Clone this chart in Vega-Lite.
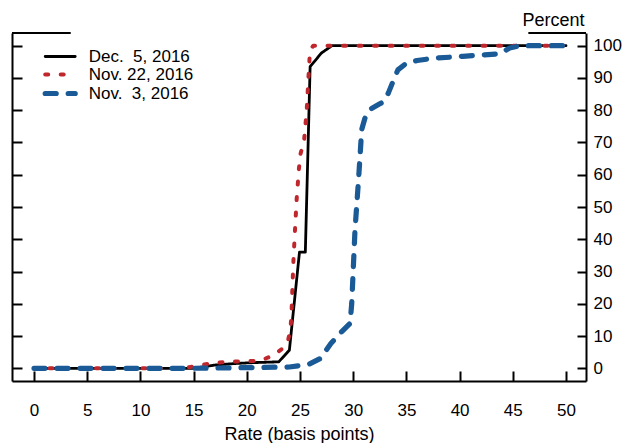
{
  "$schema": "https://vega.github.io/schema/vega-lite/v6.json",
  "width": 574,
  "height": 348,
  "autosize": {"type": "none"},
  "padding": {"left": 12, "top": 33, "right": 50, "bottom": 62},
  "config": {
    "view": {"stroke": null},
    "font": "Liberation Sans",
    "axis": {"grid": false, "domainColor": "black", "tickColor": "black", "labelColor": "black", "titleColor": "black", "domainWidth": 2, "tickWidth": 2, "titleFontWeight": "normal"}
  },
  "datasets": {
    "frame": [
      {"rate": -2.07, "rate2": 3.45, "pct": 103.94},
      {"rate": 46.46, "rate2": 51.88, "pct": 103.94}
    ],
    "curves": [
      {"series": "Dec.  5, 2016", "rate": 0, "pct": 0},
      {"series": "Dec.  5, 2016", "rate": 5, "pct": 0},
      {"series": "Dec.  5, 2016", "rate": 10, "pct": 0},
      {"series": "Dec.  5, 2016", "rate": 15, "pct": 0},
      {"series": "Dec.  5, 2016", "rate": 17, "pct": 1},
      {"series": "Dec.  5, 2016", "rate": 19, "pct": 1.5},
      {"series": "Dec.  5, 2016", "rate": 21, "pct": 1.8},
      {"series": "Dec.  5, 2016", "rate": 23, "pct": 2},
      {"series": "Dec.  5, 2016", "rate": 24, "pct": 5.6},
      {"series": "Dec.  5, 2016", "rate": 24.95, "pct": 36},
      {"series": "Dec.  5, 2016", "rate": 25.5, "pct": 36},
      {"series": "Dec.  5, 2016", "rate": 25.95, "pct": 93.5},
      {"series": "Dec.  5, 2016", "rate": 27, "pct": 97.7},
      {"series": "Dec.  5, 2016", "rate": 28, "pct": 100},
      {"series": "Dec.  5, 2016", "rate": 35, "pct": 100},
      {"series": "Dec.  5, 2016", "rate": 40, "pct": 100},
      {"series": "Dec.  5, 2016", "rate": 45, "pct": 100},
      {"series": "Dec.  5, 2016", "rate": 50, "pct": 100},
      {"series": "Nov. 22, 2016", "rate": 0, "pct": 0},
      {"series": "Nov. 22, 2016", "rate": 5, "pct": 0},
      {"series": "Nov. 22, 2016", "rate": 10, "pct": 0},
      {"series": "Nov. 22, 2016", "rate": 14, "pct": 0},
      {"series": "Nov. 22, 2016", "rate": 15, "pct": 0.6},
      {"series": "Nov. 22, 2016", "rate": 16, "pct": 1.2},
      {"series": "Nov. 22, 2016", "rate": 17, "pct": 1.7},
      {"series": "Nov. 22, 2016", "rate": 19, "pct": 2.1},
      {"series": "Nov. 22, 2016", "rate": 21.2, "pct": 2.3},
      {"series": "Nov. 22, 2016", "rate": 22.5, "pct": 4},
      {"series": "Nov. 22, 2016", "rate": 23.5, "pct": 6.5},
      {"series": "Nov. 22, 2016", "rate": 23.9, "pct": 9},
      {"series": "Nov. 22, 2016", "rate": 24.1, "pct": 12},
      {"series": "Nov. 22, 2016", "rate": 24.2, "pct": 17},
      {"series": "Nov. 22, 2016", "rate": 24.37, "pct": 32.5},
      {"series": "Nov. 22, 2016", "rate": 24.53, "pct": 43},
      {"series": "Nov. 22, 2016", "rate": 24.69, "pct": 52.7},
      {"series": "Nov. 22, 2016", "rate": 24.9, "pct": 62},
      {"series": "Nov. 22, 2016", "rate": 25.05, "pct": 66.5},
      {"series": "Nov. 22, 2016", "rate": 25.38, "pct": 70.5},
      {"series": "Nov. 22, 2016", "rate": 25.63, "pct": 80},
      {"series": "Nov. 22, 2016", "rate": 25.78, "pct": 89.4},
      {"series": "Nov. 22, 2016", "rate": 25.94, "pct": 98.6},
      {"series": "Nov. 22, 2016", "rate": 26.25, "pct": 100},
      {"series": "Nov. 22, 2016", "rate": 30, "pct": 100},
      {"series": "Nov. 22, 2016", "rate": 35, "pct": 100},
      {"series": "Nov. 22, 2016", "rate": 40, "pct": 100},
      {"series": "Nov. 22, 2016", "rate": 45, "pct": 100},
      {"series": "Nov. 22, 2016", "rate": 50, "pct": 100},
      {"series": "Nov.  3, 2016", "rate": 0, "pct": 0},
      {"series": "Nov.  3, 2016", "rate": 5, "pct": 0},
      {"series": "Nov.  3, 2016", "rate": 10, "pct": 0},
      {"series": "Nov.  3, 2016", "rate": 15, "pct": 0},
      {"series": "Nov.  3, 2016", "rate": 20, "pct": 0.2},
      {"series": "Nov.  3, 2016", "rate": 24, "pct": 0.4},
      {"series": "Nov.  3, 2016", "rate": 25.8, "pct": 1.2},
      {"series": "Nov.  3, 2016", "rate": 26.9, "pct": 3},
      {"series": "Nov.  3, 2016", "rate": 27.9, "pct": 7.7},
      {"series": "Nov.  3, 2016", "rate": 28.9, "pct": 11.3},
      {"series": "Nov.  3, 2016", "rate": 29.7, "pct": 13.9},
      {"series": "Nov.  3, 2016", "rate": 29.86, "pct": 20},
      {"series": "Nov.  3, 2016", "rate": 30.17, "pct": 43},
      {"series": "Nov.  3, 2016", "rate": 30.5, "pct": 58.4},
      {"series": "Nov.  3, 2016", "rate": 30.8, "pct": 74},
      {"series": "Nov.  3, 2016", "rate": 31.1, "pct": 77.5},
      {"series": "Nov.  3, 2016", "rate": 31.6, "pct": 80.3},
      {"series": "Nov.  3, 2016", "rate": 32.5, "pct": 82},
      {"series": "Nov.  3, 2016", "rate": 32.8, "pct": 82.5},
      {"series": "Nov.  3, 2016", "rate": 33.3, "pct": 85.3},
      {"series": "Nov.  3, 2016", "rate": 33.8, "pct": 89.4},
      {"series": "Nov.  3, 2016", "rate": 34.2, "pct": 92.5},
      {"series": "Nov.  3, 2016", "rate": 35, "pct": 94.6},
      {"series": "Nov.  3, 2016", "rate": 36, "pct": 95.4},
      {"series": "Nov.  3, 2016", "rate": 37.5, "pct": 96.1},
      {"series": "Nov.  3, 2016", "rate": 40.3, "pct": 96.7},
      {"series": "Nov.  3, 2016", "rate": 43.8, "pct": 97.5},
      {"series": "Nov.  3, 2016", "rate": 44.7, "pct": 99.3},
      {"series": "Nov.  3, 2016", "rate": 45.7, "pct": 100},
      {"series": "Nov.  3, 2016", "rate": 50, "pct": 100}
    ]
  },
  "encoding": {
    "x": {
      "field": "rate",
      "type": "quantitative",
      "scale": {"domain": [-2.07, 51.88], "nice": false, "zero": false},
      "axis": {
        "orient": "bottom",
        "values": [0, 5, 10, 15, 20, 25, 30, 35, 40, 45, 50],
        "tickSize": -10,
        "labelPadding": 31,
        "labelFontSize": 17,
        "title": "Rate (basis points)",
        "titleFontSize": 18,
        "titleBaseline": "alphabetic",
        "titleY": 58
      }
    }
  },
  "layer": [
    {
      "data": {"name": "frame"},
      "mark": {"type": "rule", "color": "black", "strokeWidth": 2},
      "encoding": {
        "x2": {"field": "rate2"},
        "y": {
          "field": "pct",
          "type": "quantitative",
          "scale": {"domain": [-3.94, 103.94], "nice": false, "zero": false},
          "axis": {"orient": "left", "values": [0, 10, 20, 30, 40, 50, 60, 70, 80, 90, 100], "tickSize": -10, "labels": false, "title": null}
        }
      }
    },
    {
      "data": {"name": "curves"},
      "mark": {"type": "line", "strokeCap": "round", "strokeJoin": "round"},
      "encoding": {
        "y": {
          "field": "pct",
          "type": "quantitative",
          "scale": {"domain": [-3.94, 103.94], "nice": false, "zero": false},
          "axis": {
            "orient": "right",
            "values": [0, 10, 20, 30, 40, 50, 60, 70, 80, 90, 100],
            "tickSize": -9,
            "labelPadding": 16,
            "labelFontSize": 17,
            "title": "Percent",
            "titleAngle": 0,
            "titleAlign": "center",
            "titleBaseline": "alphabetic",
            "titleFontSize": 18,
            "titleX": -33,
            "titleY": -8
          }
        },
        "color": {
          "field": "series",
          "type": "nominal",
          "sort": ["Dec.  5, 2016", "Nov. 22, 2016", "Nov.  3, 2016"],
          "scale": {"domain": ["Dec.  5, 2016", "Nov. 22, 2016", "Nov.  3, 2016"], "range": ["#000000", "#c0272d", "#1a5a96"]},
          "legend": {
            "orient": "none",
            "legendX": 39.7,
            "legendY": 15,
            "title": null,
            "padding": 0,
            "symbolType": "M-3,0L3,0",
            "symbolSize": 100,
            "labelOffset": 20,
            "labelFontSize": 17,
            "labelColor": "black",
            "rowPadding": 0,
            "encode": {"symbols": {"update": {"strokeCap": {"value": "round"}}}, "labels": {"update": {"text": {"signal": "replace(datum.label, '  ', ' \u00a0')"}}}}
          }
        },
        "strokeDash": {
          "field": "series",
          "type": "nominal",
          "scale": {"domain": ["Dec.  5, 2016", "Nov. 22, 2016", "Nov.  3, 2016"], "range": [[1, 0], [3, 12.5], [11, 12]]},
          "legend": null
        },
        "strokeWidth": {
          "field": "series",
          "type": "nominal",
          "scale": {"domain": ["Dec.  5, 2016", "Nov. 22, 2016", "Nov.  3, 2016"], "range": [2.8, 5.2, 2.7]},
          "legend": null
        }
      }
    }
  ],
  "resolve": {"axis": {"y": "independent"}}
}
